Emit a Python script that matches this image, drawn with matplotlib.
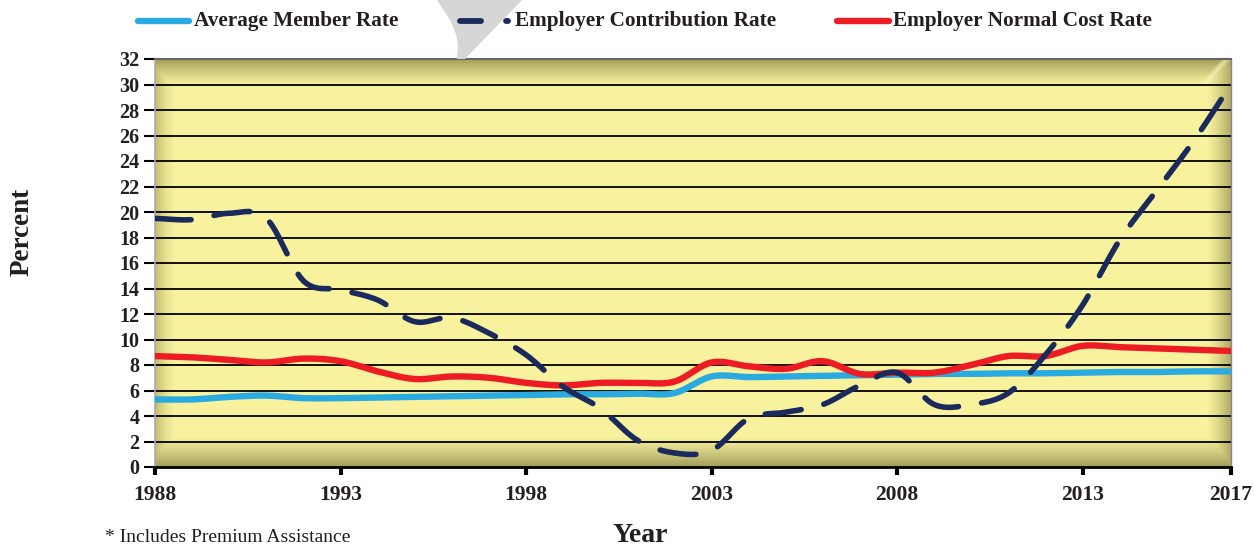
import numpy as np
import matplotlib
matplotlib.use("Agg")
import matplotlib.pyplot as plt
from matplotlib.patches import Polygon
from matplotlib.lines import Line2D

years = list(range(1988, 2018))
member_rate = [5.3, 5.3, 5.5, 5.6, 5.4, 5.4, 5.45, 5.5, 5.55, 5.6, 5.65, 5.7, 5.7, 5.75, 5.8,
               7.1, 7.05, 7.1, 7.15, 7.2, 7.25, 7.3, 7.3, 7.35, 7.35, 7.4, 7.45, 7.45, 7.5, 7.5]
contribution_rate = [19.5, 19.4, 19.9, 19.5, 14.6, 13.9, 13.1, 11.4, 11.7, 10.5, 8.8, 6.3, 4.6, 2.1, 1.1,
                     1.3, 3.8, 4.3, 4.9, 6.4, 7.4, 4.9, 4.9, 5.8, 8.8, 12.7, 17.8, 21.7, 25.6, 30.0]
normal_cost_rate = [8.7, 8.6, 8.4, 8.2, 8.5, 8.3, 7.5, 6.9, 7.1, 7.0, 6.6, 6.4, 6.6, 6.6, 6.7,
                    8.2, 7.9, 7.7, 8.3, 7.3, 7.4, 7.4, 8.0, 8.7, 8.7, 9.5, 9.4, 9.3, 9.2, 9.1]
series_names = ["Average Member Rate", "Employer Contribution Rate", "Employer Normal Cost Rate"]
x_ticks = [1988, 1993, 1998, 2003, 2008, 2013, 2017]
y_ticks = list(range(0, 33, 2))

SERIF = ["Liberation Serif", "DejaVu Serif"]
plt.rcParams["font.family"] = SERIF
TXT = "#231F20"


def smooth(x, y, n=12):
    x = np.asarray(x, float); y = np.asarray(y, float)
    xp = np.concatenate([[2 * x[0] - x[1]], x, [2 * x[-1] - x[-2]]])
    yp = np.concatenate([[2 * y[0] - y[1]], y, [2 * y[-1] - y[-2]]])
    xs, ys = [], []
    for i in range(1, len(xp) - 2):
        t = np.linspace(0, 1, n, endpoint=False)
        for arr, out in ((xp, xs), (yp, ys)):
            p0, p1, p2, p3 = arr[i - 1], arr[i], arr[i + 1], arr[i + 2]
            out.append(0.5 * ((2 * p1) + (-p0 + p2) * t + (2 * p0 - 5 * p1 + 4 * p2 - p3) * t ** 2
                              + (-p0 + 3 * p1 - 3 * p2 + p3) * t ** 3))
    xs.append([x[-1]]); ys.append([y[-1]])
    return np.concatenate(xs), np.concatenate(ys)


fig = plt.figure(figsize=(12.54, 5.46), dpi=100)
ax = fig.add_axes([155 / 1254, 1 - 467 / 546, 1076 / 1254, 408 / 546])
ax.set_xlim(1988, 2017)
ax.set_ylim(0, 32)

# bevelled yellow background
H, W = 408, 1076
yy, xx = np.mgrid[0:H, 0:W].astype(float)
base = np.array([248, 242, 158]) / 255.0
dark = np.array([148, 142, 80]) / 255.0
light = np.array([252, 248, 190]) / 255.0
top_f = np.clip(1 - yy / 26.0, 0, 1) ** 1.2
bot_f = np.clip(1 - (H - 1 - yy) / 30.0, 0, 1) ** 1.2
right_f = np.clip(1 - (W - 1 - xx) / 24.0, 0, 1) ** 1.4 * 0.85
left_f = np.clip(1 - xx / 20.0, 0, 1) ** 1.4 * 0.6
f = np.maximum.reduce([top_f, bot_f, right_f, left_f]) * 0.85
img = base[None, None, :] * (1 - f[..., None]) + dark[None, None, :] * f[..., None]
# light diagonal highlight in top-right corner
hl = np.clip(1 - np.abs((W - 1 - xx) - yy * 0.9 - 4) / 6.0, 0, 1) * (yy < 26) * 0.7
img = img * (1 - hl[..., None]) + light[None, None, :] * hl[..., None]
ax.imshow(img, extent=[1988, 2017, 0, 32], aspect="auto", origin="upper", zorder=0)

for v in y_ticks[1:-1]:
    ax.axhline(v, color="black", lw=1.3, zorder=1)

xs, ys = smooth(years, member_rate)
ax.plot(xs, ys, color="#29ABE2", lw=4.6, solid_capstyle="round", zorder=3)
xs, ys = smooth(years, normal_cost_rate)
ax.plot(xs, ys, color="#ED1C24", lw=4.6, solid_capstyle="round", zorder=4)
xs, ys = smooth(years, contribution_rate)
ax.plot(xs, ys, color="#1B2A5C", lw=4.0, dashes=(6.5, 4.2), dash_capstyle="round", zorder=5)

ax.spines["left"].set_color("#AAAAAA")
ax.spines["left"].set_linewidth(1.2)
ax.spines["top"].set_color("#666666")
ax.spines["top"].set_linewidth(1.5)
ax.spines["right"].set_color("#888888")
ax.spines["right"].set_linewidth(1.0)
ax.spines["bottom"].set_color("black")
ax.spines["bottom"].set_linewidth(2.0)

ax.set_xticks(x_ticks)
ax.set_xticklabels([str(t) for t in x_ticks], fontsize=15.5, fontweight="bold", color=TXT)
ax.set_yticks(y_ticks)
ax.set_yticklabels([str(t) for t in y_ticks], fontsize=14.5, fontweight="bold", color=TXT)
ax.tick_params(axis="y", length=8, width=1.5, pad=3, color="black")
ax.tick_params(axis="x", length=6, width=3, pad=7, color="black")

fig.text(22 / 1254, 1 - 232 / 546, "Percent", rotation=90, ha="center", va="center",
         fontsize=19.5, fontweight="bold", color=TXT)
fig.text(640 / 1254, 1 - 535 / 546, "Year", ha="center", va="center",
         fontsize=20, fontweight="bold", color=TXT)
fig.text(105 / 1254, 1 - 538 / 546, "* Includes Premium Assistance", ha="left", va="center",
         fontsize=14, color=TXT)

# grey pointer shape at the top
pts = [(437, 0), (522, 0), (465, 59), (457, 59), (458, 45), (456, 34), (450, 20)]
tri = Polygon([(px / 1254, 1 - py / 546) for px, py in pts],
              closed=True, transform=fig.transFigure, facecolor="#D6D6D6", edgecolor="none", zorder=0)
fig.patches.append(tri)

# legend
ly = 1 - 21 / 546
fig.add_artist(Line2D([138 / 1254, 189 / 1254], [ly, ly], color="#29ABE2", lw=4.6,
                      solid_capstyle="round", transform=fig.transFigure))
fig.text(194 / 1254, ly, series_names[0], ha="left", va="center", fontsize=15.3,
         fontweight="bold", color=TXT)
fig.add_artist(Line2D([460 / 1254, 481 / 1254], [ly, ly], color="#1B2A5C", lw=4.2,
                      solid_capstyle="round", transform=fig.transFigure))
fig.add_artist(Line2D([506 / 1254, 508 / 1254], [ly, ly], color="#1B2A5C", lw=4.2,
                      solid_capstyle="round", transform=fig.transFigure))
fig.text(515 / 1254, ly, series_names[1], ha="left", va="center", fontsize=15.3,
         fontweight="bold", color=TXT)
fig.add_artist(Line2D([837 / 1254, 889 / 1254], [ly, ly], color="#ED1C24", lw=4.6,
                      solid_capstyle="round", transform=fig.transFigure))
fig.text(893 / 1254, ly, series_names[2], ha="left", va="center", fontsize=15.3,
         fontweight="bold", color=TXT)

fig.savefig("out.png", dpi=100)
